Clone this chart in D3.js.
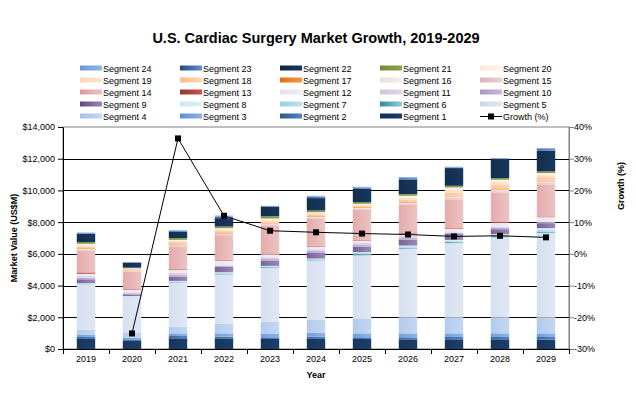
<!DOCTYPE html>
<html>
<head>
<meta charset="utf-8">
<script src="https://cdn.jsdelivr.net/npm/d3@7"></script>
<style>
  body { margin: 0; background: #fff; }
  text { font-family: "Liberation Sans", Arial, sans-serif; fill: #000; }
</style>
</head>
<body>
<div id="chart"></div>
<script>
//********** data **********//
var years = ["2019","2020","2021","2022","2023","2024","2025","2026","2027","2028","2029"];
var segNames = d3.range(1, 25).map(function(i) { return "Segment " + i; });

// market value by segment (Segment 1 .. Segment 24), US$M
var v2019 = [674, 84, 126, 337, 2863, 21, 21, 21, 250, 100, 100, 147, 84, 1389, 60, 40, 42, 105, 84, 84, 105, 526, 42, 42];
var v2020 = [547, 63, 105, 337, 2231, 20, 20, 20, 105, 63, 63, 147, 42, 1116, 42, 21, 21, 63, 42, 21, 42, 316, 21, 21];
var v2021 = [674, 147, 168, 421, 2779, 42, 42, 21, 274, 126, 126, 169, 42, 1431, 84, 42, 42, 126, 84, 42, 105, 423, 42, 42];
var v2022 = [674, 105, 210, 590, 3115, 63, 42, 42, 358, 42, 42, 295, 42, 1558, 63, 21, 42, 147, 105, 63, 105, 526, 105, 63];
var v2023 = [632, 105, 210, 779, 3389, 63, 42, 21, 337, 105, 105, 190, 42, 1747, 63, 42, 42, 126, 105, 84, 147, 589, 42, 21];
var v2024 = [632, 147, 231, 821, 3747, 63, 42, 22, 378, 105, 105, 169, 42, 1706, 84, 42, 42, 126, 84, 42, 105, 780, 84, 63];
var v2025 = [632, 105, 252, 948, 3957, 84, 84, 42, 358, 105, 126, 148, 42, 1895, 84, 42, 42, 105, 63, 43, 105, 842, 84, 42];
var v2026 = [610, 127, 252, 990, 4336, 84, 84, 42, 358, 126, 126, 128, 42, 1789, 84, 42, 42, 168, 126, 106, 105, 926, 84, 65];
var v2027 = [610, 148, 231, 990, 4694, 84, 84, 42, 400, 42, 43, 210, 42, 1810, 105, 85, 42, 210, 168, 148, 105, 1116, 42, 42];
var v2028 = [610, 148, 231, 990, 5052, 84, 84, 42, 316, 105, 63, 232, 42, 1852, 105, 85, 42, 253, 190, 147, 105, 1200, 42, 22];
var v2029 = [589, 169, 231, 990, 5326, 105, 126, 84, 316, 63, 42, 274, 42, 1999, 126, 85, 42, 232, 148, 105, 105, 1305, 105, 64];
var yearRows = [v2019, v2020, v2021, v2022, v2023, v2024, v2025, v2026, v2027, v2028, v2029];

// growth (%) - no point for the first year
var growth = [null, -25.1, 36.4, 12.0, 7.3, 6.8, 6.4, 6.1, 5.5, 5.7, 5.2];

var yTicks = [0, 2000, 4000, 6000, 8000, 10000, 12000, 14000];
var growthTicks = [-30, -20, -10, 0, 10, 20, 30, 40];

// gradient colours for each segment: [dark side, light side]
var segColors = [
  ["#142f52", "#1c3f6a"], ["#2b568c", "#5283c4"], ["#5d8fd6", "#8db2e6"], ["#a6c2ea", "#c3d7f1"],
  ["#cdd9ec", "#e0e8f4"], ["#34899f", "#8fcbdb"], ["#99d0de", "#bfe2eb"], ["#cbe7ef", "#e0f1f6"],
  ["#5f497a", "#9a86b8"], ["#a797c8", "#c5b9dd"], ["#cdc4df", "#ddd6ea"], ["#e5dfee", "#f1edf6"],
  ["#953735", "#d0504d"], ["#dc9a98", "#edc3c2"], ["#dcb4b2", "#ebd1d0"], ["#ecdddd", "#f5ecec"],
  ["#e36c0a", "#f79646"], ["#f8bb8c", "#fcd5b4"], ["#fbd6b0", "#fde6ce"], ["#fce8d8", "#fef4ec"],
  ["#718d38", "#8aa64a"], ["#10253f", "#17375e"], ["#254c80", "#5f8fd4"], ["#6c98d8", "#92b5e8"]
];

//********** layout **********//
var width = 636, height = 393;
var plot = {left: 63, right: 569, top: 127, bottom: 349};

var svg = d3.select("#chart").append("svg")
  .attr("width", width)
  .attr("height", height);

// legend swatches get the full gradient, bars a softer one
var defs = svg.append("defs");
segColors.forEach(function(c, i) {
  var g = defs.append("linearGradient")
    .attr("id", "grad" + i)
    .attr("x1", "0%").attr("x2", "100%").attr("y1", "0%").attr("y2", "0%");
  g.append("stop").attr("offset", "0%").attr("stop-color", c[0]);
  g.append("stop").attr("offset", "100%").attr("stop-color", c[1]);

  var b = defs.append("linearGradient")
    .attr("id", "bgrad" + i)
    .attr("x1", "0%").attr("x2", "100%").attr("y1", "0%").attr("y2", "0%");
  b.append("stop").attr("offset", "0%").attr("stop-color", d3.interpolateRgb(c[0], c[1])(0.45));
  b.append("stop").attr("offset", "100%").attr("stop-color", c[1]);
});

var x = d3.scaleBand()
  .domain(years)
  .range([plot.left, plot.right])
  .paddingInner(0.6)
  .paddingOuter(0.3);

var y = d3.scaleLinear().domain([0, 14000]).range([plot.bottom, plot.top]);
var y2 = d3.scaleLinear().domain([-30, 40]).range([plot.bottom, plot.top]);

// title
svg.append("text")
  .attr("x", 316).attr("y", 43)
  .attr("text-anchor", "middle")
  .style("font-size", "14.5px").style("font-weight", "bold")
  .text("U.S. Cardiac Surgery Market Growth, 2019-2029");

// plot border (grey) and gridlines (black)
svg.append("rect")
  .attr("x", plot.left).attr("y", plot.top)
  .attr("width", plot.right - plot.left).attr("height", plot.bottom - plot.top)
  .attr("fill", "none").attr("stroke", "#808080");

svg.append("g").selectAll("line")
  .data(yTicks.slice(1, -1))
  .enter().append("line")
    .attr("x1", plot.left).attr("x2", plot.right)
    .attr("y1", function(d) { return Math.round(y(d)) + 0.5; })
    .attr("y2", function(d) { return Math.round(y(d)) + 0.5; })
    .attr("stroke", "#000");

// stacked bars
var stackData = years.map(function(yr, i) {
  var row = {year: yr};
  segNames.forEach(function(s, j) { row[s] = yearRows[i][j]; });
  return row;
});
var series = d3.stack().keys(segNames)(stackData);

svg.append("g").selectAll("g")
  .data(series)
  .enter().append("g")
    .attr("fill", function(d, i) { return "url(#bgrad" + i + ")"; })
  .selectAll("rect")
  .data(function(d) { return d; })
  .enter().append("rect")
    .attr("x", function(d) { return x(d.data.year); })
    .attr("width", x.bandwidth())
    .attr("y", function(d) { return y(d[1]); })
    .attr("height", function(d) { return y(d[0]) - y(d[1]); });

// axes
var axisFont = function(g) {
  g.selectAll("text").style("font-size", "9px").style("font-family", "Liberation Sans, Arial, sans-serif");
};

svg.append("g")
  .attr("transform", "translate(" + plot.left + ",0)")
  .call(d3.axisLeft(y).tickValues(yTicks).tickSize(5).tickSizeOuter(0)
    .tickFormat(function(d) { return "$" + d3.format(",")(d); }))
  .call(axisFont)
  .call(function(g) { g.selectAll("text").attr("x", -8); });

var right = svg.append("g")
  .attr("transform", "translate(" + plot.right + ",0)")
  .call(d3.axisRight(y2).tickValues(growthTicks).tickSize(5).tickSizeOuter(0)
    .tickFormat(function(d) { return d + "%"; }))
  .call(axisFont)
  .call(function(g) { g.selectAll("text").attr("x", 5); });
right.select(".domain").attr("stroke", "#808080");
right.selectAll(".tick line").attr("stroke", "#808080");

// x axis: labels at centres, ticks at category boundaries
var xAxis = svg.append("g")
  .attr("transform", "translate(0," + plot.bottom + ")")
  .call(d3.axisBottom(x).tickSize(0).tickPadding(7))
  .call(axisFont);
xAxis.append("g").selectAll("line")
  .data(d3.range(years.length + 1))
  .enter().append("line")
    .attr("x1", function(i) { return Math.round(plot.left + i * x.step()) + 0.5; })
    .attr("x2", function(i) { return Math.round(plot.left + i * x.step()) + 0.5; })
    .attr("y1", 0).attr("y2", 5)
    .attr("stroke", "#000");

// axis titles
svg.append("text")
  .attr("x", 316).attr("y", 378)
  .attr("text-anchor", "middle")
  .style("font-size", "9px").style("font-weight", "bold")
  .text("Year");

svg.append("text")
  .attr("transform", "translate(17,238) rotate(-90)")
  .attr("text-anchor", "middle")
  .style("font-size", "9px").style("font-weight", "bold")
  .text("Market Value (US$M)");

svg.append("text")
  .attr("transform", "translate(624,186) rotate(-90)")
  .attr("text-anchor", "middle")
  .style("font-size", "9px").style("font-weight", "bold")
  .text("Growth (%)");

// growth line
var growthPts = years.map(function(yr, i) { return {year: yr, g: growth[i]}; })
  .filter(function(d) { return d.g !== null; });

var line = d3.line()
  .x(function(d) { return x(d.year) + x.bandwidth() / 2; })
  .y(function(d) { return y2(d.g); });

svg.append("path")
  .datum(growthPts)
  .attr("d", line)
  .attr("fill", "none")
  .attr("stroke", "#000")
  .attr("stroke-width", 1);

svg.append("g").selectAll("rect")
  .data(growthPts)
  .enter().append("rect")
    .attr("x", function(d) { return x(d.year) + x.bandwidth() / 2 - 3; })
    .attr("y", function(d) { return y2(d.g) - 3; })
    .attr("width", 6).attr("height", 6)
    .attr("fill", "#000");

// legend: 5 columns, top-left is Segment 24, last slot is the growth line
var legendItems = segNames.slice().reverse().map(function(s, i) {
  return {name: s, idx: 23 - i};
});
legendItems.push({name: "Growth (%)", idx: -1});

var legend = svg.append("g").selectAll("g")
  .data(legendItems)
  .enter().append("g")
    .attr("transform", function(d, i) {
      return "translate(" + (80 + (i % 5) * 100) + "," + (68 + Math.floor(i / 5) * 12) + ")";
    });

legend.filter(function(d) { return d.idx >= 0; })
  .append("rect")
    .attr("x", 0).attr("y", -2.5)
    .attr("width", 22).attr("height", 5)
    .attr("fill", function(d) { return "url(#grad" + d.idx + ")"; });

var gl = legend.filter(function(d) { return d.idx < 0; });
gl.append("line").attr("x1", 0).attr("x2", 22).attr("y1", 0.5).attr("y2", 0.5).attr("stroke", "#000");
gl.append("rect").attr("x", 8).attr("y", -2.5).attr("width", 6).attr("height", 6).attr("fill", "#000");

legend.append("text")
  .attr("x", 23).attr("y", 3.5)
  .style("font-size", "9px")
  .text(function(d) { return d.name; });
</script>
</body>
</html>
